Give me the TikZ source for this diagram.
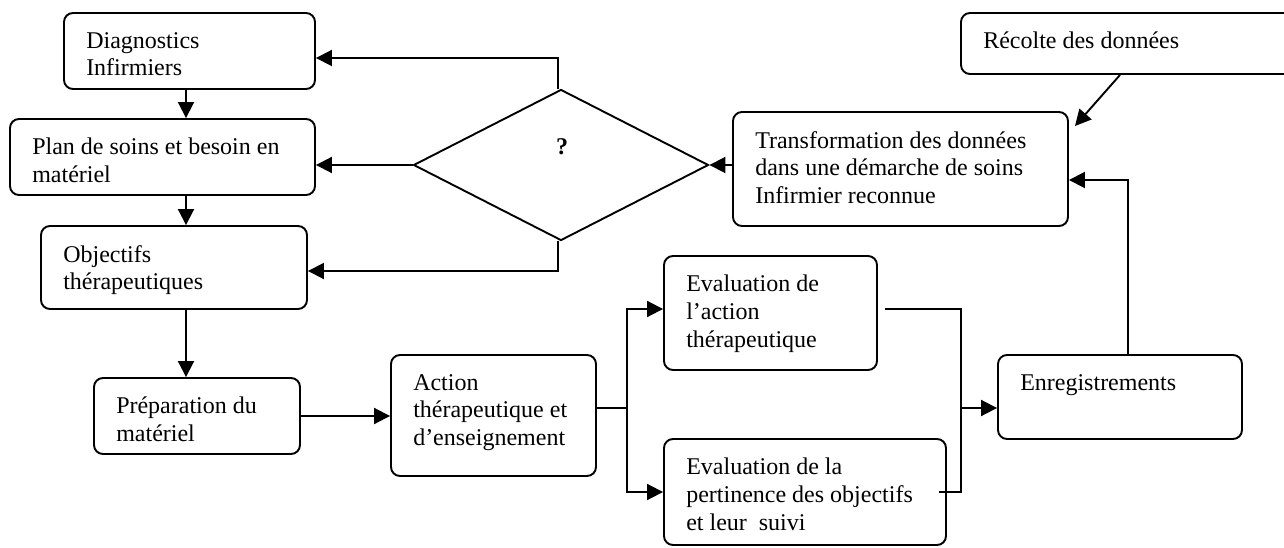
\documentclass[tikz,border=0pt]{standalone}
\usepackage{fontspec}
\setmainfont{Liberation Serif}
\usetikzlibrary{arrows.meta,shapes.geometric}

% box given by its corners (left, top, right, bottom) in canvas units
\newcommand\mkbox[5]{%
  \node[box, minimum width={(#4-#2)*1pt}, minimum height={(#5-#3)*1pt}]
    (#1) at ({(#2+#4)/2},{(#3+#5)/2}) {};}
% left-aligned text set inside the top-left corner of a box
\newcommand\boxtext[2]{%
  \node[lbl] (#1-t) at ([shift={(23pt,-20pt)}]#1.north west) {#2};}

\begin{document}
\begin{tikzpicture}[x=1pt,y=-1pt,
  box/.style={draw, rounded corners=9pt, line width=1.9pt, inner sep=0pt},
  lbl/.style={anchor=north west, inner sep=0pt, align=left,
              font=\fontsize{24}{27.6}\selectfont},
  ln/.style={line width=1.9pt},
  arr/.style={line width=1.9pt, -{Triangle[length=16pt,width=16pt]}}]
\useasboundingbox (0,0) rectangle (1284,548);

% boxes
\mkbox{diag}{64}{13}{315}{89}
\mkbox{plan}{10}{119}{315}{195}
\mkbox{obj}{41}{226}{307}{309}
\mkbox{prep}{94}{378}{300}{454}
\mkbox{action}{391}{355}{596}{476}
\mkbox{evalA}{664}{256}{877}{370}
\mkbox{evalP}{664}{439}{946}{545}
\mkbox{enr}{998}{355}{1242}{439}
\mkbox{trans}{733}{112}{1068}{226}
\mkbox{recolte}{961}{13}{1310}{74}

\boxtext{diag}{Diagnostics\\Infirmiers}
\boxtext{plan}{Plan de soins et besoin en\\matériel}
\boxtext{obj}{Objectifs\\thérapeutiques}
\boxtext{prep}{Préparation du\\matériel}
\boxtext{action}{Action\\thérapeutique et\\d’enseignement}
\boxtext{evalA}{Evaluation de\\l’action\\thérapeutique}
\boxtext{evalP}{Evaluation de la\\pertinence des objectifs\\et leur\ \ suivi}
\boxtext{enr}{Enregistrements}
\boxtext{trans}{Transformation des données\\dans une démarche de soins\\Infirmier reconnue}
\boxtext{recolte}{Récolte des données}

% decision
\node[draw, diamond, line width=1.9pt, inner sep=0pt,
      minimum width=295pt, minimum height=151pt] (dia) at (561,165) {};
\node[font=\fontsize{24}{27.6}\selectfont\bfseries, inner sep=0pt] (qmark) at (562,147) {?};

% routing points
\coordinate (qtop) at (558,58);
\coordinate (qbot) at (558,271);
\coordinate (sp) at (627,408);
\coordinate (ja) at (885,309);
\coordinate (jb) at (961,309);
\coordinate (jn) at (961,408);
\coordinate (jc) at (961,492);
\coordinate (jd) at (939,492);
\coordinate (rt) at (1075,126);

% left column
\draw[arr] (diag.south -| 186,0) -- (plan.north -| 186,0);
\draw[arr] (plan.south -| 186,0) -- (obj.north -| 186,0);
\draw[arr] (obj.south -| 186,0) -- (prep.north -| 186,0);
\draw[arr] (prep.east) -- (action.west |- prep.east);

% decision outputs
\draw[arr] (dia.north -| qtop) -- (qtop) -- (diag.east |- qtop);
\draw[arr] (dia.west) -- (plan.east |- dia.west);
\draw[arr] (dia.south -| qbot) -- (qbot) -- (obj.east |- qbot);
\draw[arr] (trans.west |- dia.east) -- (dia.east);

% split after the action
\draw[ln] (action.east |- sp) -- (sp);
\draw[arr] (sp) |- (evalA.west |- ja);
\draw[arr] (sp) |- (evalP.west |- jc);

% join of the evaluations
\draw[ln] (ja) -- (jb) -- (jc) -- (jd);
\draw[arr] (jn) -- (enr.west |- jn);

% back to the transformation
\draw[arr] (enr.north -| 1128,0) |- (trans.east |- 0,180);
\draw[arr] (recolte.south -| 1120,0) -- (rt);
\end{tikzpicture}
\end{document}
